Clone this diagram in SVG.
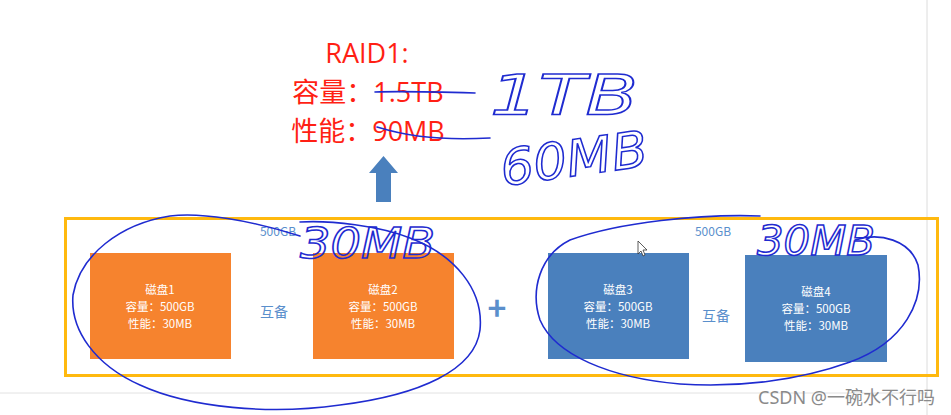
<svg xmlns="http://www.w3.org/2000/svg" width="951" height="415" viewBox="0 0 951 415">
<style>
.title{font-family:"Open Sans","Noto Sans CJK SC",sans-serif;fill:#ff1f14;font-size:27px;text-anchor:middle}
.disk{font-family:"Noto Sans CJK SC","Noto Sans",sans-serif;fill:#ffffff;font-size:11.5px;text-anchor:middle}
.lbl{font-family:"Noto Sans CJK SC","Noto Sans",sans-serif;fill:#5a8fcc;text-anchor:middle}
.ink{fill:none;stroke:#1f2bd0;stroke-width:1.6;stroke-linecap:round;stroke-linejoin:round}
.hand{font-family:"DejaVu Sans",sans-serif;font-style:italic;fill:none;stroke:#1f2bd0;stroke-width:1.5}
.orange{fill:#f6832e}
.blue{fill:#4a80bd}
</style>
<rect width="951" height="415" fill="#ffffff"/>
<line x1="927" y1="0" x2="927" y2="415" stroke="#dcdcdc" stroke-width="1"/>
<line x1="0" y1="393" x2="927" y2="393" stroke="#e2e2e2" stroke-width="1"/>

<g id="title">
<text class="title" x="367" y="63">RAID1:</text>
<text class="title" x="368" y="102">容量：1.5TB</text>
<text class="title" x="368" y="141">性能：90MB</text>
</g>

<g id="arrow">
<polygon points="383.5,156 398,173 391,173 391,202 376,202 376,173 369,173" fill="#4a80bd"/>
</g>

<g id="frame">
<rect x="65.5" y="218.5" width="872" height="157" fill="none" stroke="#ffb90f" stroke-width="3"/>
</g>

<g id="disk1">
<rect class="orange" x="90" y="253" width="141" height="106"/>
<text class="disk" x="160" y="294">磁盘1</text>
<text class="disk" x="160" y="311">容量：500GB</text>
<text class="disk" x="160" y="328">性能：30MB</text>
</g>
<g id="disk2">
<rect class="orange" x="313" y="253" width="141" height="106"/>
<text class="disk" x="383" y="294">磁盘2</text>
<text class="disk" x="383" y="311">容量：500GB</text>
<text class="disk" x="383" y="328">性能：30MB</text>
</g>
<g id="disk3">
<rect class="blue" x="548" y="253" width="141" height="106"/>
<text class="disk" x="618" y="294">磁盘3</text>
<text class="disk" x="618" y="311">容量：500GB</text>
<text class="disk" x="618" y="328">性能：30MB</text>
</g>
<g id="disk4">
<rect class="blue" x="745" y="255" width="142" height="107"/>
<text class="disk" x="816" y="296">磁盘4</text>
<text class="disk" x="816" y="313">容量：500GB</text>
<text class="disk" x="816" y="330">性能：30MB</text>
</g>

<g id="labels">
<text class="lbl" x="278" y="236" font-size="12">500GB</text>
<text class="lbl" x="713" y="236" font-size="12">500GB</text>
<text class="lbl" x="274" y="317" font-size="14">互备</text>
<text class="lbl" x="716" y="321" font-size="14">互备</text>
<text class="lbl" x="497" y="320" font-size="32" font-weight="bold">+</text>
</g>

<g id="cursor">
<polygon points="638,241 638,254 641,251 643,256 645,255 643,250 647,250" fill="#ffffff" stroke="#333333" stroke-width="0.8"/>
</g>

<g id="annotations">
<path class="ink" d="M 300 236 C 250 220, 200 212, 170 216 C 120 224, 80 255, 73 295 C 70 330, 95 365, 140 385 C 190 408, 270 415, 340 405 C 420 395, 475 370, 480 330 C 484 290, 455 255, 410 238 C 380 226, 330 220, 300 222"/>
<path class="ink" d="M 760 216 C 700 214, 620 222, 570 240 C 540 255, 530 290, 540 320 C 555 355, 610 378, 680 384 C 740 388, 800 380, 850 362 C 905 342, 925 300, 918 265 C 910 240, 880 232, 855 240"/>
<path class="ink" d="M 375 92 C 400 91, 440 92, 475 93"/>
<path class="ink" d="M 377 127 C 400 134, 430 141, 490 138"/>
<text class="hand" x="490" y="114" font-size="56" textLength="148" lengthAdjust="spacingAndGlyphs">1TB</text>
<text class="hand" x="503" y="186" font-size="50" transform="rotate(-8 503 186)" textLength="148" lengthAdjust="spacingAndGlyphs">60MB</text>
<text class="hand" x="300" y="258" font-size="42" textLength="135" lengthAdjust="spacingAndGlyphs">30MB</text>
<text class="hand" x="757" y="255" font-size="40" textLength="118" lengthAdjust="spacingAndGlyphs">30MB</text>
</g>

<g id="watermark">
<text x="935" y="404" font-family="'Noto Sans','Noto Sans CJK SC',sans-serif" font-size="18" fill="#8a8a8a" text-anchor="end">CSDN @一碗水不行吗</text>
</g>
</svg>
